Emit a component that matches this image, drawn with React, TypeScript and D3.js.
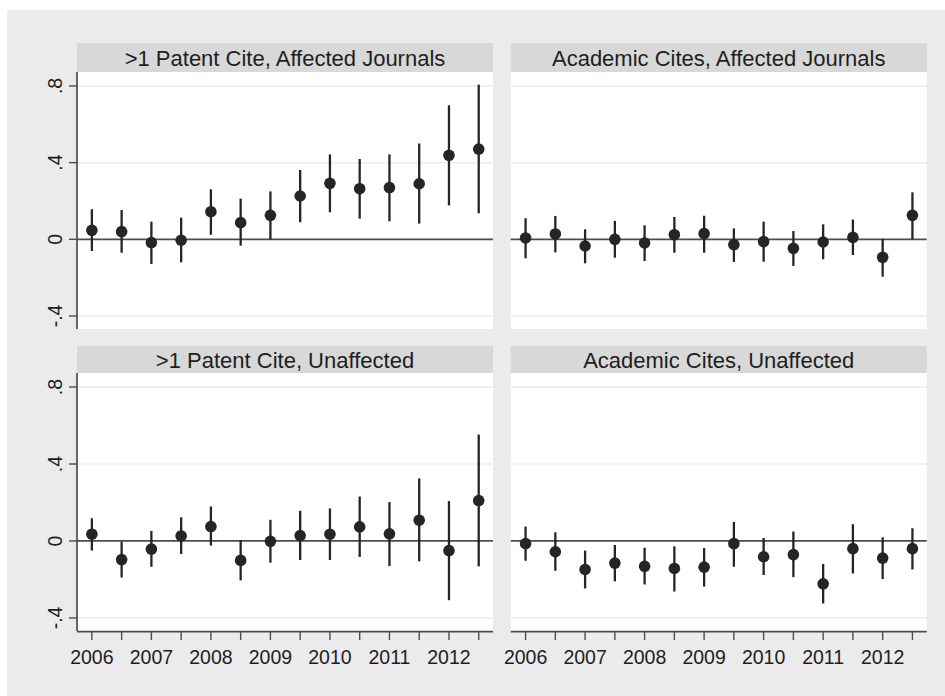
import React from "react";
import * as d3 from "d3";

const periods = [2006, 2006.5, 2007, 2007.5, 2008, 2008.5, 2009, 2009.5, 2010, 2010.5, 2011, 2011.5, 2012, 2012.5];
const yearLabels = [2006, 2007, 2008, 2009, 2010, 2011, 2012];
const yTicks = [-0.4, 0, 0.4, 0.8];
const yTickLabels = ["-.4", "0", ".4", ".8"];

const panelTitles = [
  ">1 Patent Cite, Affected Journals",
  "Academic Cites, Affected Journals",
  ">1 Patent Cite, Unaffected",
  "Academic Cites, Unaffected",
];

const patentAffected = [0.047, 0.04, -0.017, -0.005, 0.144, 0.087, 0.125, 0.226, 0.292, 0.264, 0.27, 0.29, 0.438, 0.471];
const patentAffectedLo = [-0.061, -0.07, -0.129, -0.12, 0.024, -0.033, 0.0, 0.089, 0.141, 0.108, 0.094, 0.082, 0.177, 0.136];
const patentAffectedHi = [0.157, 0.153, 0.092, 0.113, 0.261, 0.212, 0.25, 0.362, 0.443, 0.419, 0.443, 0.5, 0.699, 0.807];

const academicAffected = [0.007, 0.028, -0.035, 0.0, -0.019, 0.024, 0.03, -0.028, -0.012, -0.047, -0.014, 0.01, -0.094, 0.125];
const academicAffectedLo = [-0.099, -0.068, -0.125, -0.096, -0.113, -0.07, -0.07, -0.118, -0.117, -0.139, -0.104, -0.082, -0.195, 0.0];
const academicAffectedHi = [0.11, 0.122, 0.052, 0.096, 0.073, 0.117, 0.123, 0.057, 0.092, 0.043, 0.078, 0.103, 0.002, 0.245];

const patentUnaffected = [0.035, -0.097, -0.042, 0.026, 0.075, -0.101, -0.002, 0.028, 0.035, 0.073, 0.037, 0.108, -0.05, 0.21];
const patentUnaffectedLo = [-0.05, -0.19, -0.134, -0.068, -0.024, -0.205, -0.113, -0.099, -0.099, -0.083, -0.13, -0.106, -0.308, -0.132];
const patentUnaffectedHi = [0.118, -0.003, 0.052, 0.123, 0.179, 0.005, 0.11, 0.157, 0.169, 0.231, 0.202, 0.325, 0.207, 0.553];

const academicUnaffected = [-0.014, -0.056, -0.148, -0.115, -0.132, -0.143, -0.136, -0.014, -0.082, -0.071, -0.223, -0.04, -0.089, -0.04];
const academicUnaffectedLo = [-0.103, -0.155, -0.247, -0.21, -0.226, -0.263, -0.237, -0.134, -0.177, -0.188, -0.325, -0.169, -0.198, -0.148];
const academicUnaffectedHi = [0.075, 0.045, -0.05, -0.021, -0.035, -0.028, -0.037, 0.099, 0.016, 0.049, -0.12, 0.087, 0.019, 0.066];

const panelData = [
  { est: patentAffected, lo: patentAffectedLo, hi: patentAffectedHi },
  { est: academicAffected, lo: academicAffectedLo, hi: academicAffectedHi },
  { est: patentUnaffected, lo: patentUnaffectedLo, hi: patentUnaffectedHi },
  { est: academicUnaffected, lo: academicUnaffectedLo, hi: academicUnaffectedHi },
];

const W = 945;
const H = 696;
const FONT = "'Liberation Sans', Arial, Helvetica, sans-serif";

const colX = [
  { left: 77, right: 493 },
  { left: 510.7, right: 926.7 },
];
const rowY = [
  { headTop: 43, top: 72, bottom: 329 },
  { headTop: 346, top: 373, bottom: 631 },
];

function Panel({ idx }: { idx: number }) {
  const col = idx % 2;
  const row = Math.floor(idx / 2);
  const { left, right } = colX[col];
  const { headTop, top, bottom } = rowY[row];
  const x = d3.scaleLinear().domain([2005.75, 2012.74]).range([left, right]);
  const y = d3.scaleLinear().domain([-0.468, 0.873]).range([bottom, top]);
  const d = panelData[idx];
  const dark = "#252525";
  const axisCol = "#4d4d4d";
  return (
    <g>
      <rect x={left} y={headTop} width={right - left} height={top - headTop} fill="#d8d8d8" />
      <text
        x={(left + right) / 2}
        y={(headTop + top) / 2 + 8}
        textAnchor="middle"
        fontSize={22}
        fill="#1e1e1e"
        fontFamily={FONT}
      >
        {panelTitles[idx]}
      </text>
      <rect x={left} y={top} width={right - left} height={bottom - top} fill="#ffffff" />
      {yTicks
        .filter((t) => t !== 0)
        .map((t) => (
          <line key={t} x1={left} x2={right} y1={y(t)} y2={y(t)} stroke="#ebebeb" strokeWidth={1.5} />
        ))}
      <line x1={left} x2={right} y1={y(0)} y2={y(0)} stroke={axisCol} strokeWidth={1.7} />
      {col === 0 && (
        <g>
          <line x1={left} x2={left} y1={top} y2={bottom} stroke={axisCol} strokeWidth={1.7} />
          {yTicks.map((t, i) => (
            <g key={t}>
              <line x1={left - 8} x2={left} y1={y(t)} y2={y(t)} stroke={axisCol} strokeWidth={1.4} />
              <text
                transform={`translate(${left - 15},${y(t)}) rotate(-90)`}
                textAnchor="middle"
                fontSize={19.5}
                fill="#1e1e1e"
                fontFamily={FONT}
              >
                {yTickLabels[i]}
              </text>
            </g>
          ))}
        </g>
      )}
      {row === 1 && (
        <g>
          <line x1={left} x2={right} y1={bottom + 0.7} y2={bottom + 0.7} stroke={axisCol} strokeWidth={1.7} />
          {periods.map((p) => (
            <line key={p} x1={x(p)} x2={x(p)} y1={bottom} y2={bottom + 9} stroke={axisCol} strokeWidth={1.4} />
          ))}
          {yearLabels.map((yr) => (
            <text
              key={yr}
              x={x(yr)}
              y={bottom + 33}
              textAnchor="middle"
              fontSize={19.5}
              fill="#1e1e1e"
              fontFamily={FONT}
            >
              {yr}
            </text>
          ))}
        </g>
      )}
      {periods.map((p, i) => (
        <line
          key={"ci" + p}
          x1={x(p)}
          x2={x(p)}
          y1={y(d.lo[i])}
          y2={y(d.hi[i])}
          stroke={dark}
          strokeWidth={2.3}
        />
      ))}
      {periods.map((p, i) => (
        <circle key={"pt" + p} cx={x(p)} cy={y(d.est[i])} r={5.8} fill={dark} />
      ))}
    </g>
  );
}

export default function App() {
  return (
    <svg
      width={W}
      height={H}
      style={{ position: "absolute", left: 0, top: 0, display: "block" }}
    >
      <rect x={0} y={0} width={W} height={H} fill="#ffffff" />
      <rect x={7} y={10} width={W - 7} height={H - 10} fill="#ebebeb" />
      {[0, 1, 2, 3].map((i) => (
        <Panel key={i} idx={i} />
      ))}
    </svg>
  );
}
